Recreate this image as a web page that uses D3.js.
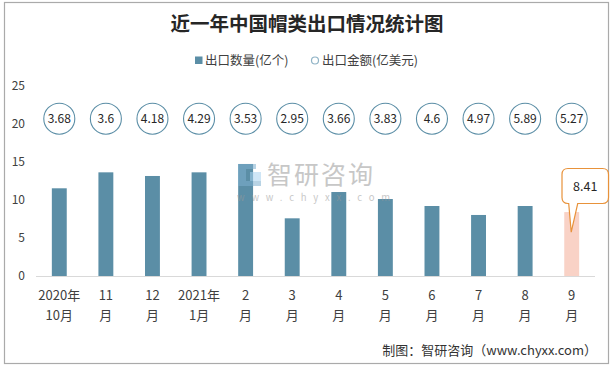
<!DOCTYPE html>
<html>
<head>
<meta charset="utf-8">
<script src="https://cdn.jsdelivr.net/npm/d3@7"></script>
<style>
  html, body { margin: 0; padding: 0; background: #fff; }
  svg { display: block; font-family: "Noto Sans CJK SC", "Noto Sans", sans-serif; }
</style>
</head>
<body>
<svg id="chart" width="615" height="368"></svg>
<script>
// ---- data ----
const categoriesLine1 = ["2020年", "11", "12", "2021年", "2", "3", "4", "5", "6", "7", "8", "9"];
const categoriesLine2 = ["10月", "月", "月", "1月", "月", "月", "月", "月", "月", "月", "月", "月"];
const quantity = [11.54, 13.64, 13.16, 13.64, 14.74, 7.59, 11.05, 10.13, 9.21, 8.03, 9.21, 8.41];
const amount = [3.68, 3.6, 4.18, 4.29, 3.53, 2.95, 3.66, 3.83, 4.6, 4.97, 5.89, 5.27];
const yTicks = [0, 5, 10, 15, 20, 25];
const amountLabelLevel = 20.7; // row of value circles, in left-axis units
const seriesNames = ["出口数量(亿个)", "出口金额(亿美元)"];

// ---- layout ----
const svg = d3.select("#chart");
const barColor = "#5b8ea6";
const highlightColor = "#f9d2c6";
const calloutColor = "#e8923a";
const textColor = "#404040";

// outer border
svg.append("rect").attr("x", 4.5).attr("y", 2.5).attr("width", 604).attr("height", 361)
  .attr("fill", "#fff").attr("stroke", "#aaaaaa").attr("stroke-width", 1.2);

const idx = d3.range(quantity.length);
const x = d3.scaleBand().domain(idx).range([36, 595]).paddingInner(0.68).paddingOuter(0.34);
const y = d3.scaleLinear().domain([0, 25]).range([276, 86]);

// title
svg.append("text").attr("x", 307).attr("y", 31).attr("text-anchor", "middle")
  .attr("font-size", 19.5).attr("font-weight", 700).attr("fill", "#262626")
  .text("近一年中国帽类出口情况统计图");

// legend
const lg = svg.append("g").attr("font-size", 12.5).attr("fill", textColor);
lg.append("rect").attr("x", 195).attr("y", 56.5).attr("width", 7.5).attr("height", 7.5).attr("fill", barColor);
lg.append("text").attr("x", 205).attr("y", 64.5).text(seriesNames[0]);
lg.append("circle").attr("cx", 315).attr("cy", 60.5).attr("r", 3.5).attr("fill", "#fff")
  .attr("stroke", "#8fb3c6").attr("stroke-width", 1.2);
lg.append("text").attr("x", 322).attr("y", 64.5).text(seriesNames[1]);

// y axis labels
const yAxis = d3.axisLeft(y).tickValues(yTicks).tickSize(0).tickPadding(0);
const yg = svg.append("g").attr("transform", "translate(25,0)").call(yAxis);
yg.select(".domain").remove();
yg.selectAll("text").attr("font-size", 12).attr("fill", textColor)
  .attr("font-family", "'Noto Sans CJK SC', sans-serif");

// bars
svg.append("g").selectAll("rect").data(idx).join("rect")
  .attr("x", i => x(i)).attr("width", x.bandwidth())
  .attr("y", i => y(quantity[i])).attr("height", i => y(0) - y(quantity[i]))
  .attr("fill", i => i === idx.length - 1 ? highlightColor : barColor);

// baseline
svg.append("line").attr("x1", 36).attr("x2", 595).attr("y1", y(0) + 0.5).attr("y2", y(0) + 0.5)
  .attr("stroke", "#d9d9d9").attr("stroke-width", 1);

// x axis labels
const xg = svg.append("g").attr("font-size", 13).attr("fill", textColor).attr("text-anchor", "middle");
xg.selectAll("text.l1").data(idx).join("text").attr("class", "l1")
  .attr("x", i => x(i) + x.bandwidth() / 2).attr("y", 300).text(i => categoriesLine1[i]);
xg.selectAll("text.l2").data(idx).join("text").attr("class", "l2")
  .attr("x", i => x(i) + x.bandwidth() / 2).attr("y", 320).text(i => categoriesLine2[i]);

// amount circles
const cg = svg.append("g");
cg.selectAll("circle").data(idx).join("circle")
  .attr("cx", i => x(i) + x.bandwidth() / 2).attr("cy", y(amountLabelLevel)).attr("r", 15.5)
  .attr("fill", "#fff").attr("stroke", "#5b8ea6").attr("stroke-width", 1.1);
cg.selectAll("text").data(idx).join("text")
  .attr("x", i => x(i) + x.bandwidth() / 2).attr("y", y(amountLabelLevel) + 4.3)
  .attr("text-anchor", "middle").attr("font-size", 12).attr("fill", "#262626")
  .text(i => amount[i]);

// watermark
const wm = svg.append("g").attr("opacity", 0.55);
wm.append("rect").attr("x", 238).attr("y", 164).attr("width", 8).attr("height", 22).attr("fill", "#7fb0cf");
wm.append("rect").attr("x", 246).attr("y", 164).attr("width", 10).attr("height", 5).attr("fill", "#7fb0cf");
wm.append("rect").attr("x", 250).attr("y", 172).attr("width", 11).attr("height", 9).attr("fill", "#a9d3ef");
wm.append("rect").attr("x", 246).attr("y", 181).attr("width", 15).attr("height", 5).attr("fill", "#7fb0cf");
wm.append("text").attr("x", 267).attr("y", 184).attr("font-size", 25).attr("fill", "#9a9a9a")
  .attr("letter-spacing", 2).text("智研咨询");
wm.append("text").attr("x", 237).attr("y", 201).attr("font-size", 9.5).attr("fill", "#9a9a9a")
  .attr("letter-spacing", 6.8).text("www.chyxx.com");

// callout for last bar
const li = idx.length - 1;
const bx = x(li) + x.bandwidth() / 2;
const tipY = y(quantity[li]) + 20;
const bl = 562, br = 608.5, bt = 168.5, bb = 203.5, r = 6;
const path = [
  `M${bl + r},${bt}`, `L${br - r},${bt}`, `Q${br},${bt} ${br},${bt + r}`,
  `L${br},${bb - r}`, `Q${br},${bb} ${br - r},${bb}`,
  `L${bx + 6},${bb}`, `L${bx - 0.5},${tipY}`, `L${bx - 3},${bb}`,
  `L${bl + r},${bb}`, `Q${bl},${bb} ${bl},${bb - r}`,
  `L${bl},${bt + r}`, `Q${bl},${bt} ${bl + r},${bt}`, "Z"
].join(" ");
svg.append("path").attr("d", path).attr("fill", "#fff").attr("stroke", calloutColor).attr("stroke-width", 1.2);
svg.append("text").attr("x", (bl + br) / 2).attr("y", 190.5).attr("text-anchor", "middle")
  .attr("font-size", 12.5).attr("fill", "#262626").text(quantity[li]);

// source
svg.append("text").attr("x", 597).attr("y", 355).attr("text-anchor", "end")
  .attr("font-size", 13).attr("fill", "#333")
  .text("制图：智研咨询（www.chyxx.com）");
</script>
</body>
</html>
